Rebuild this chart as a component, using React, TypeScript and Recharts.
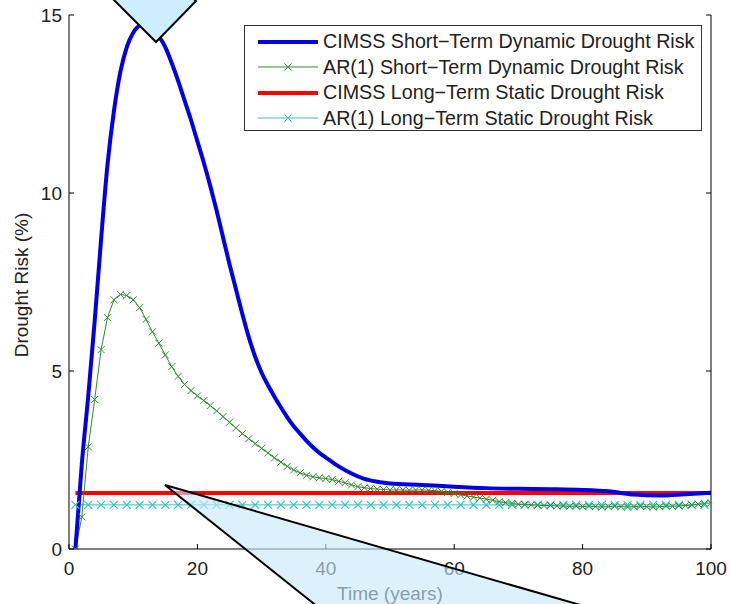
import React from "react";
import { LineChart, Line, XAxis, YAxis, Legend } from "recharts";

// ---- data ----
const shortTermYears = [
  1, 2, 3, 4, 5, 6, 7, 8, 9, 10, 11, 12, 13, 14, 15, 16, 17, 18, 19, 20,
  21, 22, 23, 24, 25, 26, 27, 28, 29, 30, 31, 32, 33, 34, 35, 36, 37, 38, 39, 40,
  41, 42, 43, 44, 45, 46, 47, 48, 49, 50, 51, 52, 53, 54, 55, 56, 57, 58, 59, 60,
  61, 62, 63, 64, 65, 66, 67, 68, 69, 70, 71, 72, 73, 74, 75, 76, 77, 78, 79, 80,
  81, 82, 83, 84, 85, 86, 87, 88, 89, 90, 91, 92, 93, 94, 95, 96, 97, 98, 99, 100,
];
const ar1ShortTerm = [
  0, 0.9, 2.87, 4.2, 5.6, 6.5, 7.0, 7.15, 7.12, 7.0,
  6.78, 6.45, 6.1, 5.78, 5.45, 5.12, 4.85, 4.62, 4.45, 4.3,
  4.17, 4.03, 3.88, 3.72, 3.56, 3.4, 3.24, 3.1, 2.96, 2.83,
  2.7, 2.56, 2.44, 2.32, 2.22, 2.14, 2.07, 2.03, 2.0, 1.98,
  1.95, 1.9, 1.86, 1.8, 1.75, 1.72, 1.7, 1.68, 1.67, 1.66,
  1.66, 1.66, 1.65, 1.66, 1.66, 1.65, 1.64, 1.62, 1.59, 1.56,
  1.52, 1.49, 1.46, 1.43, 1.4, 1.37, 1.33, 1.3, 1.28, 1.26,
  1.25, 1.24, 1.23, 1.22, 1.22, 1.21, 1.21, 1.2, 1.2, 1.19,
  1.2, 1.19, 1.18, 1.19, 1.2, 1.19, 1.18, 1.19, 1.2, 1.19,
  1.18, 1.19, 1.2, 1.2, 1.21, 1.22, 1.24, 1.26, 1.28, 1.3,
];

const cimssYears = [
  1, 2, 3, 4, 5, 6, 7, 8, 9, 10, 11, 12, 13, 14, 15, 16, 17, 18, 19, 20,
  21, 22, 23, 24, 25, 26, 27, 28, 29, 30, 31, 32, 33, 34, 35, 36, 37, 38, 39, 40,
  42, 44, 46, 48, 50, 55, 60, 65, 70, 75, 80, 84, 88, 92, 96, 100,
];
const cimssShortTerm = [
  0, 2.4, 4.3, 6.4, 8.7, 10.8, 12.3, 13.4, 14.1, 14.5,
  14.7, 14.72, 14.6, 14.4, 14.1, 13.65, 13.15, 12.6, 12.05, 11.45,
  10.85, 10.2, 9.5, 8.75, 8.0, 7.3, 6.6, 5.95, 5.4, 4.95,
  4.6, 4.28, 3.98, 3.7, 3.45, 3.24, 3.04, 2.86, 2.7, 2.57,
  2.32, 2.12, 1.97, 1.89, 1.84, 1.8, 1.75, 1.71, 1.69, 1.68,
  1.66, 1.62, 1.53, 1.5, 1.54, 1.58,
];

const cimssLongYears = [1, 100];
const cimssLongTerm = [1.57, 1.57];

const ar1LongYears = [
  1, 3, 5, 7, 9, 11, 13, 15, 17, 19, 21, 23, 25, 27, 29, 31, 33, 35, 37, 39,
  41, 43, 45, 47, 49, 51, 53, 55, 57, 59, 61, 63, 65, 67, 69, 71, 73, 75, 77, 79,
  81, 83, 85, 87, 89, 91, 93, 95, 97, 99,
];
const ar1LongTerm = [
  1.24, 1.24, 1.24, 1.24, 1.24, 1.24, 1.24, 1.24, 1.24, 1.24,
  1.24, 1.24, 1.24, 1.24, 1.24, 1.24, 1.24, 1.24, 1.24, 1.24,
  1.24, 1.24, 1.24, 1.24, 1.24, 1.24, 1.24, 1.24, 1.24, 1.24,
  1.24, 1.24, 1.24, 1.24, 1.24, 1.24, 1.24, 1.24, 1.24, 1.24,
  1.24, 1.24, 1.24, 1.24, 1.24, 1.24, 1.24, 1.24, 1.24, 1.24,
];

const xTicks = [0, 20, 40, 60, 80, 100];
const yTicks = [0, 5, 10, 15];

const seriesNames = [
  "CIMSS Short\u2212Term Dynamic Drought Risk",
  "AR(1) Short\u2212Term Dynamic Drought Risk",
  "CIMSS Long\u2212Term Static Drought Risk",
  "AR(1) Long\u2212Term Static Drought Risk",
];

const toPoints = (xs: number[], ys: number[]) =>
  xs.map((t, i) => ({ t, v: ys[i] }));

const cimssShortData = toPoints(cimssYears, cimssShortTerm);
const ar1ShortData = toPoints(shortTermYears, ar1ShortTerm);
const cimssLongData = toPoints(cimssLongYears, cimssLongTerm);
const ar1LongData = toPoints(ar1LongYears, ar1LongTerm);

// ---- styles ----
const FONT = "'Liberation Sans', Arial, Helvetica, sans-serif";
const BLUE = "#0000e6";
const GREEN = "#2e8b2e";
const RED = "#ff0000";
const CYAN = "#30c4c4";
const TEXT = "#222222";

const makeCross = (color: string, half: number, w: number) => (props: any) => {
  const { cx, cy, index } = props;
  if (cx == null || cy == null) return <g key={`n-${index}`} />;
  return (
    <path
      key={`x-${index}`}
      d={`M${cx - half},${cy - half}L${cx + half},${cy + half}M${cx - half},${cy + half}L${cx + half},${cy - half}`}
      stroke={color}
      strokeWidth={w}
      fill="none"
    />
  );
};

const greenCross = makeCross(GREEN, 3.5, 1);
const cyanCross = makeCross(CYAN, 4, 1.2);

const legendItems = [
  { name: seriesNames[0], color: BLUE, width: 4, marker: false },
  { name: seriesNames[1], color: GREEN, width: 1, marker: true },
  { name: seriesNames[2], color: RED, width: 4, marker: false },
  { name: seriesNames[3], color: CYAN, width: 1, marker: true },
];

const LegendBox = () => (
  <div
    style={{
      width: 458,
      height: 106,
      border: "1px solid #333",
      background: "#fff",
      boxSizing: "border-box",
      paddingTop: 3,
      fontFamily: FONT,
      fontSize: 19.7,
      color: TEXT,
    }}
  >
    {legendItems.map((it) => (
      <div
        key={it.name}
        style={{ display: "flex", alignItems: "center", height: 25.5, whiteSpace: "nowrap" }}
      >
        <svg width={78} height={20} style={{ flex: "none" }}>
          <line x1={13} y1={10} x2={73} y2={10} stroke={it.color} strokeWidth={it.width} />
          {it.marker && (
            <path d="M39.5,6.5L46.5,13.5M39.5,13.5L46.5,6.5" stroke={it.color} strokeWidth={1} />
          )}
        </svg>
        <span>{it.name}</span>
      </div>
    ))}
  </div>
);

const YLabel = (props: any) => {
  const vb = props.viewBox || {};
  const cx = 21;
  const cy = (vb.y ?? 15) + (vb.height ?? 534) / 2 + 3;
  return (
    <text
      x={cx}
      y={cy}
      transform={`rotate(-90, ${cx}, ${cy})`}
      textAnchor="middle"
      dominantBaseline="central"
      fontFamily={FONT}
      fontSize={19}
      fill={TEXT}
    >
      Drought Risk (%)
    </text>
  );
};

const XLabel = () => (
  <text
    x={390}
    y={593}
    textAnchor="middle"
    dominantBaseline="central"
    fontFamily={FONT}
    fontSize={19}
    fill={TEXT}
  >
    Time (years)
  </text>
);

const blank = () => "";

export default function App() {
  return (
    <div style={{ position: "absolute", left: 0, top: 0, width: 729, height: 604, background: "#fff" }}>
      <LineChart
        width={729}
        height={604}
        margin={{ top: 15, right: 0, bottom: 0, left: 0 }}
        style={{ fontFamily: FONT }}
      >
        <XAxis
          xAxisId="bottom"
          dataKey="t"
          type="number"
          domain={[0, 100]}
          ticks={xTicks}
          allowDataOverflow
          orientation="bottom"
          height={55}
          tickSize={-5}
          tickMargin={18}
          stroke="#000"
          tick={{ fill: TEXT, fontSize: 19, fontFamily: FONT }}
          label={<XLabel />}
        />
        <XAxis
          xAxisId="top"
          dataKey="t"
          type="number"
          domain={[0, 100]}
          ticks={xTicks}
          allowDataOverflow
          orientation="top"
          height={0}
          tickSize={-5}
          tickFormatter={blank}
          stroke="#000"
        />
        <YAxis
          yAxisId="left"
          type="number"
          domain={[0, 15]}
          ticks={yTicks}
          allowDataOverflow
          orientation="left"
          width={69}
          tickSize={-5}
          tickMargin={12}
          stroke="#000"
          tick={{ fill: TEXT, fontSize: 19, fontFamily: FONT }}
          label={<YLabel />}
        />
        <YAxis
          yAxisId="right"
          type="number"
          domain={[0, 15]}
          ticks={yTicks}
          allowDataOverflow
          orientation="right"
          width={18}
          tickSize={-5}
          tickFormatter={blank}
          stroke="#000"
        />
        <Legend
          layout="horizontal"
          verticalAlign="middle"
          align="center"
          wrapperStyle={{ left: 244, top: 25, width: 458, height: 106 }}
          content={() => <LegendBox />}
        />
        <Line
          xAxisId="bottom"
          yAxisId="left"
          data={ar1LongData}
          dataKey="v"
          name={seriesNames[3]}
          stroke={CYAN}
          strokeWidth={1}
          dot={cyanCross}
          isAnimationActive={false}
        />
        <Line
          xAxisId="bottom"
          yAxisId="left"
          data={cimssLongData}
          dataKey="v"
          name={seriesNames[2]}
          stroke={RED}
          strokeWidth={4}
          dot={false}
          isAnimationActive={false}
        />
        <Line
          xAxisId="bottom"
          yAxisId="left"
          data={ar1ShortData}
          dataKey="v"
          name={seriesNames[1]}
          stroke={GREEN}
          strokeWidth={1}
          dot={greenCross}
          isAnimationActive={false}
        />
        <Line
          xAxisId="bottom"
          yAxisId="left"
          data={cimssShortData}
          dataKey="v"
          name={seriesNames[0]}
          type="monotone"
          stroke={BLUE}
          strokeWidth={4}
          dot={false}
          isAnimationActive={false}
        />
      </LineChart>
      <svg
        width={729}
        height={604}
        style={{ position: "absolute", left: 0, top: 0, pointerEvents: "none" }}
      >
        <polygon
          points="155,-40 196,1 156,42 114,0"
          fill="#cdeefd"
          stroke="#000"
          strokeWidth={2}
        />
        <polygon
          points="165,485 328,615 615,615"
          fill="rgb(200,232,250)"
          fillOpacity={0.62}
          stroke="#000"
          strokeWidth={2}
        />
      </svg>
    </div>
  );
}
